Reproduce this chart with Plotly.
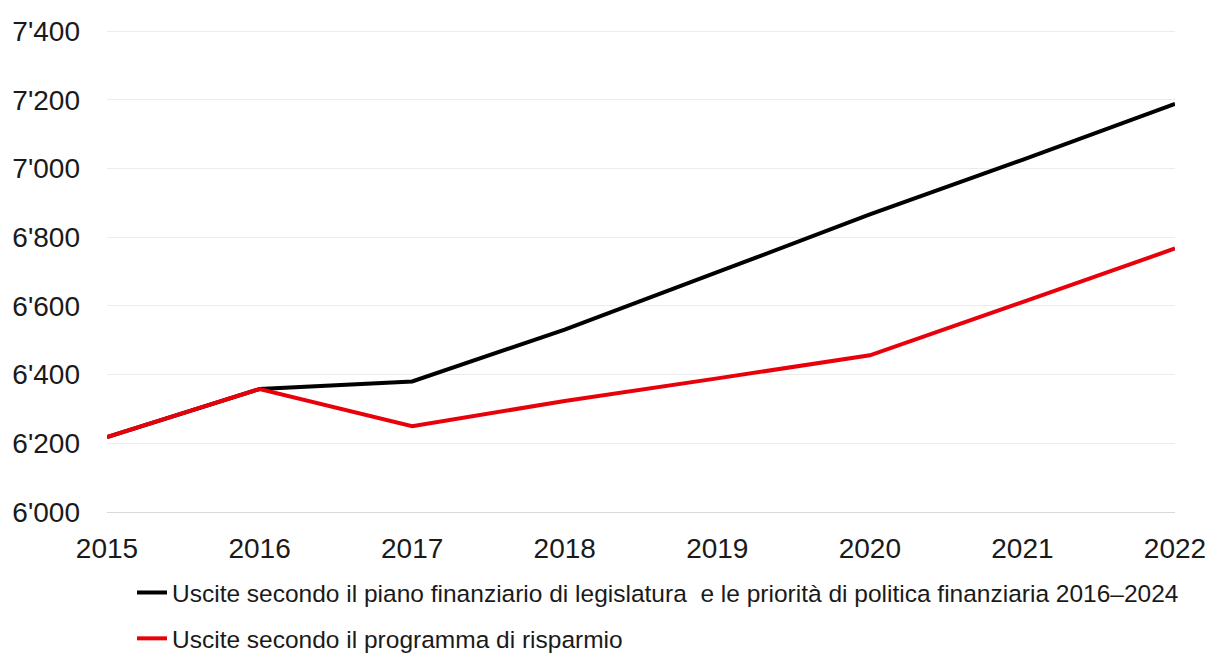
import plotly.graph_objects as go

years = [2015, 2016, 2017, 2018, 2019, 2020, 2021, 2022]
piano = [6218, 6358, 6380, 6531, 6698, 6866, 7025, 7188]
risparmio = [6218, 6358, 6250, 6323, 6389, 6456, 6611, 6767]
name_piano = "Uscite secondo il piano finanziario di legislatura  e le priorità di politica finanziaria 2016–2024"
name_risp = "Uscite secondo il programma di risparmio"
y_ticks = [6000, 6200, 6400, 6600, 6800, 7000, 7200, 7400]

fig = go.Figure()
fig.add_trace(go.Scatter(x=years, y=piano, mode="lines", name=name_piano,
                         line=dict(color="#000000", width=4), legendgroup="a"))
fig.add_trace(go.Scatter(x=years, y=risparmio, mode="lines", name=name_risp,
                         line=dict(color="#e8000b", width=4), legendgroup="b"))

font = "Liberation Sans, Arial, sans-serif"
fig.update_layout(
    width=1211, height=656,
    margin=dict(l=107, r=36, t=30, b=144),
    paper_bgcolor="white", plot_bgcolor="white",
    separators=".'",
    font=dict(family=font, color="#1a1a1a", size=28),
    showlegend=True,
    legend=dict(orientation="v", xref="paper", x=0.0234, xanchor="left",
                yref="container", y=0.131, yanchor="top",
                font=dict(size=24.5, family=font, color="#1a1a1a"),
                tracegroupgap=11, itemwidth=30, bgcolor="rgba(0,0,0,0)"),
    xaxis=dict(range=[2015, 2022], tickvals=years, tickformat="d", automargin=False,
               showgrid=False, zeroline=False, showline=True, linecolor="#d9d9d9",
               linewidth=1, ticks="", ticklabelstandoff=11,
               tickfont=dict(size=28, family=font, color="#1a1a1a")),
    yaxis=dict(range=[6000, 7403], tickvals=y_ticks, tickformat=",d", automargin=False,
               showgrid=True, gridcolor="#ececec", gridwidth=1, zeroline=False,
               showline=False, ticks="", ticklabelstandoff=26,
               tickfont=dict(size=28, family=font, color="#1a1a1a")),
)

fig.write_html("out.html")
